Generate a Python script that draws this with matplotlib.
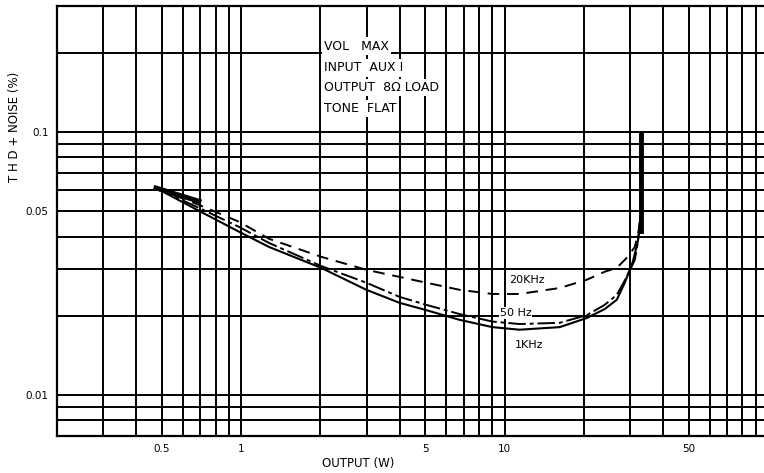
import matplotlib.pyplot as plt

# THD+N (%) against output power (W)
out_1k = [0.475, 0.692, 0.983, 1.278, 2.015, 2.988, 3.99, 5.05, 6.745, 9.0, 11.4,
          16.19, 20.5, 24.0, 26.67, 28.6, 30.67, 32.04, 32.9, 32.9]
thd_1k = [0.0612, 0.0501, 0.0417, 0.0365, 0.0304, 0.0251, 0.0224, 0.0210, 0.0193, 0.0181, 0.0177,
          0.0181, 0.0196, 0.0212, 0.0230, 0.0267, 0.0320, 0.0382, 0.0463, 0.0991]

out_50 = [0.475, 0.692, 0.983, 1.278, 2.015, 2.988, 3.99, 5.05, 6.745, 9.0, 11.4,
          16.19, 20.5, 24.0, 26.67, 29.1, 31.22, 32.04, 32.9, 32.9]
thd_50 = [0.0612, 0.0514, 0.0435, 0.0378, 0.0309, 0.0267, 0.0236, 0.0220, 0.0203, 0.0190, 0.0186,
          0.0188, 0.0201, 0.0220, 0.0240, 0.0281, 0.0326, 0.0378, 0.0483, 0.0991]

out_20k = [0.475, 0.692, 0.983, 1.278, 2.015, 2.988, 3.99, 5.05, 6.745, 9.0, 11.4,
           16.19, 20.5, 24.0, 26.67, 29.1, 31.22, 32.33, 32.9, 32.9]
thd_20k = [0.0612, 0.0528, 0.0455, 0.0392, 0.0335, 0.0299, 0.0281, 0.0267, 0.0251, 0.0242, 0.0242,
           0.0255, 0.0274, 0.0294, 0.0304, 0.0332, 0.0365, 0.0424, 0.0505, 0.0991]

x_grid = [0.3, 0.4, 0.5, 0.6, 0.7, 0.8, 0.9, 1, 2, 3, 4, 5, 6, 7, 8, 9, 10,
          20, 30, 40, 50, 60, 70, 80, 90]
y_grid = [0.008, 0.009, 0.01, 0.02, 0.03, 0.04, 0.05, 0.06, 0.07, 0.08, 0.09, 0.1, 0.2]
x_ticks = [0.5, 1, 5, 10, 50]
x_labels = ["0.5", "1", "5", "10", "50"]
y_ticks = [0.01, 0.05, 0.1]
y_labels = ["0.01", "0.05", "0.1"]
notes = ["VOL   MAX", "INPUT  AUX I", "OUTPUT  8\u03a9 LOAD", "TONE  FLAT"]
note_y = [0.212, 0.175, 0.147, 0.123]

fig = plt.figure(figsize=(7.64, 4.73), dpi=100)
ax = fig.add_axes([57 / 764, 37 / 473, 1 - 57 / 764, 430 / 473])
ax.set_xscale("log")
ax.set_yscale("log")
ax.set_xlim(0.2, 96.6)
ax.set_ylim(0.00698, 0.301)

for v in x_grid:
    ax.axvline(v, color="black", lw=1.4, zorder=1)
for v in y_grid:
    ax.axhline(v, color="black", lw=1.4, zorder=1)

ax.plot(out_1k, thd_1k, color="black", lw=1.5, zorder=3)
ax.plot(out_50, thd_50, color="black", lw=1.4, ls=(0, (9, 2, 2, 2)), zorder=3)
ax.plot(out_20k, thd_20k, color="black", lw=1.4, ls=(0, (6, 4)), zorder=3)
# heavy ink where the curves start and where they run together
ax.plot(out_1k[:2], [0.0612, 0.0545], color="black", lw=3.5, zorder=3)
ax.plot(out_1k[-2:], [0.042, thd_1k[-1]], color="black", lw=3.5, zorder=3)

ax.text(10.45, 0.0274, "20KHz", fontsize=8, va="center", zorder=4)
ax.text(9.57, 0.0205, "50 Hz", fontsize=8, va="center", zorder=4,
        bbox=dict(facecolor="white", edgecolor="none", pad=0.5))
ax.text(10.9, 0.0155, "1KHz", fontsize=8, va="center", zorder=4)

for s, yv in zip(notes, note_y):
    ax.text(2.07, yv, s, fontsize=9, va="center", zorder=4,
            bbox=dict(facecolor="white", edgecolor="none", pad=1.5))

ax.set_xticks(x_ticks)
ax.set_xticklabels(x_labels)
ax.set_yticks(y_ticks)
ax.set_yticklabels(y_labels)
ax.minorticks_off()
ax.tick_params(length=0, labelsize=7.5, pad=6)
for s in ax.spines.values():
    s.set_linewidth(1.6)
ax.spines["right"].set_visible(False)

fig.text(15 / 764, 1 - 127 / 473, "T H D + NOISE (%)", rotation=90, fontsize=8.5,
         ha="center", va="center")
fig.text(358 / 764, 1 - 463 / 473, "OUTPUT (W)", fontsize=8.5, ha="center", va="center")

fig.savefig("out.png", dpi=100)
